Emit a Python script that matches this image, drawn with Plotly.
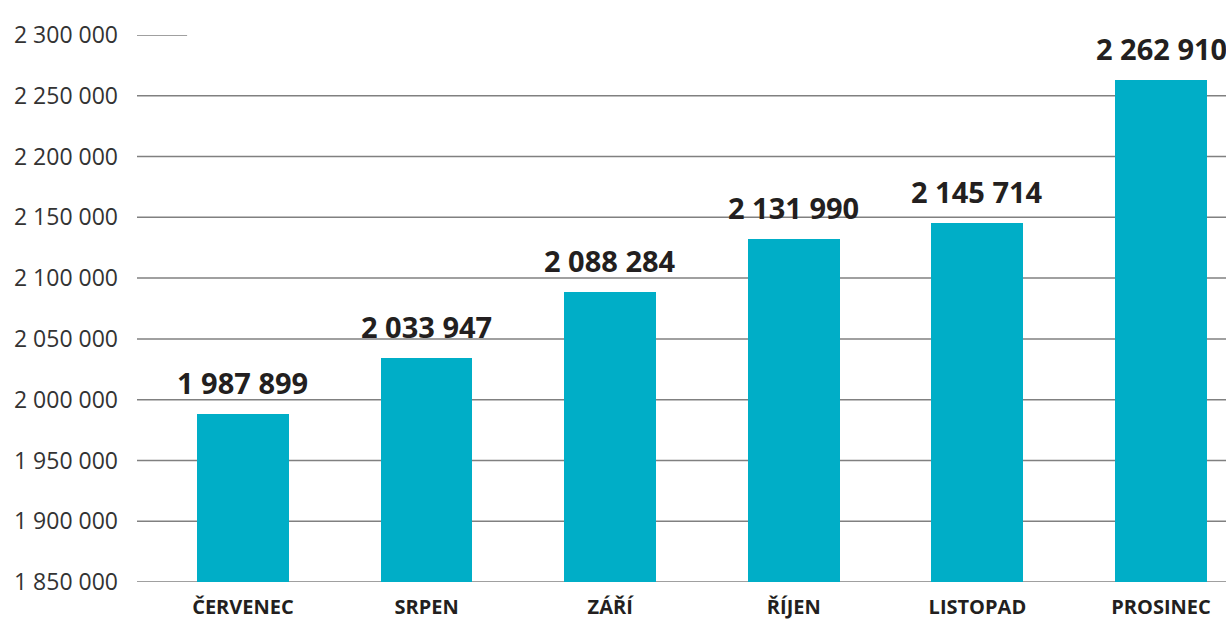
import plotly.graph_objects as go

months = ["ČERVENEC", "SRPEN", "ZÁŘÍ", "ŘÍJEN", "LISTOPAD", "PROSINEC"]
values = [1987899, 2033947, 2088284, 2131990, 2145714, 2262910]
value_labels = ["1 987 899", "2 033 947", "2 088 284", "2 131 990", "2 145 714", "2 262 910"]
y_ticks = [1850000, 1900000, 1950000, 2000000, 2050000, 2100000, 2150000, 2200000, 2250000, 2300000]
y_tick_labels = ["1 850 000", "1 900 000", "1 950 000", "2 000 000", "2 050 000",
                 "2 100 000", "2 150 000", "2 200 000", "2 250 000", "2 300 000"]

xpos = list(range(len(months)))

fig = go.Figure()

# gridlines as shapes (top one is short in the original)
shapes = []
for v in y_ticks:
    x1 = 0.046 if v == y_ticks[-1] else 1
    shapes.append(dict(type="line", xref="paper", yref="y", x0=0, x1=x1, y0=v, y1=v,
                       line=dict(color="#808080", width=1.5), layer="below"))

fig.add_trace(go.Bar(x=xpos, y=values, width=0.5, marker=dict(color="#00aec7", line=dict(width=0)),
                     hoverinfo="skip"))

annotations = []
for x, v, t in zip(xpos, values, value_labels):
    annotations.append(dict(x=x, y=v, xref="x", yref="y", text="<b>%s</b>" % t, showarrow=False,
                            yanchor="bottom", yshift=10,
                            font=dict(family="Open Sans", size=29, color="#231f20")))

fig.update_layout(
    width=1226, height=621,
    margin=dict(l=137, r=0, t=35, b=39),
    plot_bgcolor="white", paper_bgcolor="white",
    showlegend=False,
    shapes=shapes,
    annotations=annotations,
    bargap=0,
)
fig.update_xaxes(range=[-0.577, 5.354], tickvals=xpos,
                 ticktext=["<b>%s</b>" % m for m in months],
                 tickfont=dict(family="Open Sans", size=20, color="#231f20"),
                 showgrid=False, zeroline=False, showline=False, ticks="", ticklabelstandoff=11,
                 automargin=False)
fig.update_yaxes(range=[1850000, 2300000], tickvals=y_ticks, ticktext=y_tick_labels,
                 tickfont=dict(family="Open Sans", size=23, color="#333333"),
                 showgrid=False, zeroline=False, showline=False, ticks="", ticklabelstandoff=18,
                 automargin=False)

fig.write_html("out.html", config={"displayModeBar": False},
               post_script="document.body.style.margin='0';document.body.style.overflow='hidden';")
